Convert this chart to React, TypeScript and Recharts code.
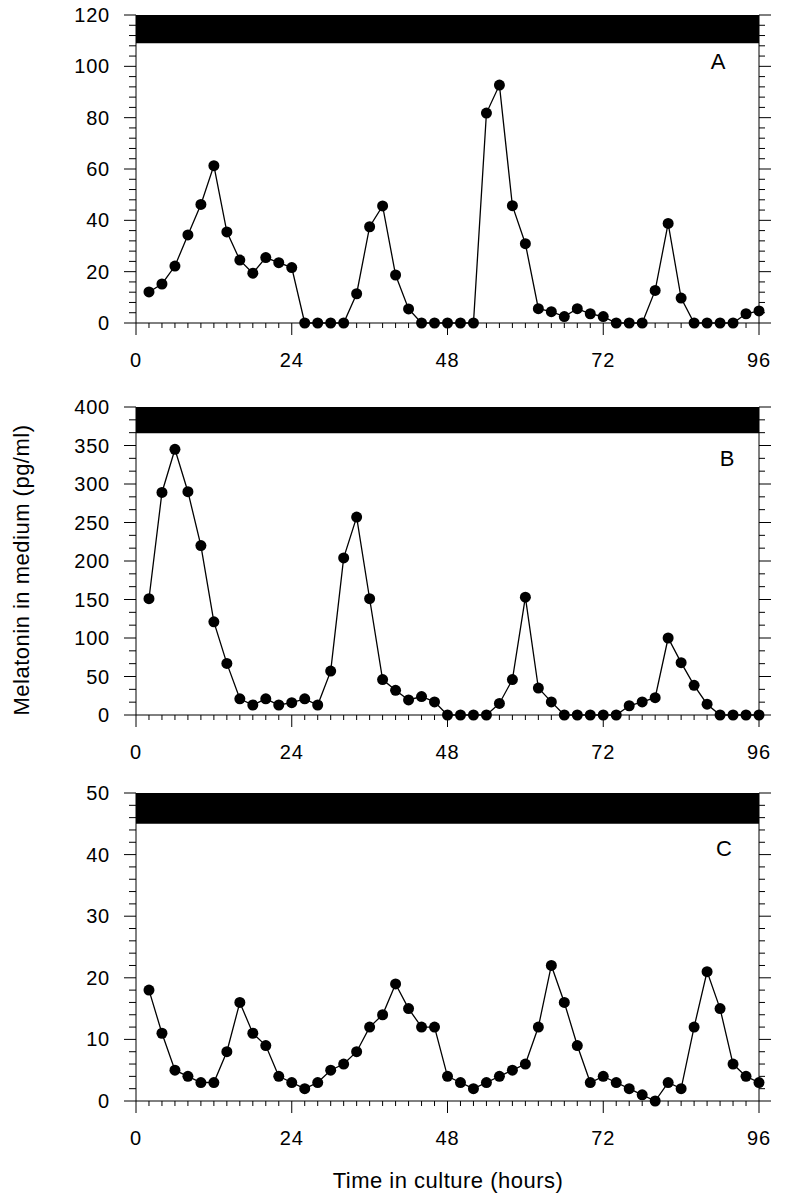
import React from "react";
import { LineChart, Line, XAxis, YAxis, ReferenceArea } from "recharts";

const hours = [
  2, 4, 6, 8, 10, 12, 14, 16, 18, 20, 22, 24, 26, 28, 30, 32, 34, 36, 38, 40, 42, 44, 46, 48,
  50, 52, 54, 56, 58, 60, 62, 64, 66, 68, 70, 72, 74, 76, 78, 80, 82, 84, 86, 88, 90, 92, 94, 96,
];

const valuesA = [
  12.1, 15.2, 22.2, 34.3, 46.2, 61.3, 35.5, 24.5, 19.4, 25.5, 23.5, 21.6,
  0, 0, 0, 0, 11.4, 37.5, 45.6, 18.7, 5.5, 0, 0, 0,
  0, 0, 81.8, 92.7, 45.7, 30.9, 5.6, 4.4, 2.5, 5.6, 3.6, 2.5,
  0, 0, 0, 12.7, 38.8, 9.7, 0, 0, 0, 0, 3.6, 4.7,
];

const valuesB = [
  151, 289, 345, 290, 220, 121, 67, 21, 13, 21, 13, 16,
  21, 13, 57, 204, 257, 151, 46, 32, 19.5, 24, 17, 0,
  0, 0, 0, 15, 46, 153, 35, 17, 0, 0, 0, 0,
  0, 12, 17, 22.5, 100, 68, 38.5, 14, 0, 0, 0, 0,
];

const valuesC = [
  18, 11, 5, 4, 3, 3, 8, 16, 11, 9, 4, 3,
  2, 3, 5, 6, 8, 12, 14, 19, 15, 12, 12, 4,
  3, 2, 3, 4, 5, 6, 12, 22, 16, 9, 3, 4,
  3, 2, 1, 0, 3, 2, 12, 21, 15, 6, 4, 3,
];

const xTicks = [
  0, 2, 4, 6, 8, 10, 12, 14, 16, 18, 20, 22, 24, 26, 28, 30, 32, 34, 36, 38, 40, 42, 44, 46, 48,
  50, 52, 54, 56, 58, 60, 62, 64, 66, 68, 70, 72, 74, 76, 78, 80, 82, 84, 86, 88, 90, 92, 94, 96,
];

// minor tick steps: A every 4, B every 50/3, C every 2
const minorTicks = (max: number, parts: number) =>
  Array.from({ length: parts + 1 }, (_, i) => (max * i) / parts);

const panels = [
  { id: "A", top: 0, max: 120, bar: 109, ticks: minorTicks(120, 30), majorEvery: 5, values: valuesA, lx: 718, ly: 62 },
  { id: "B", top: 392, max: 400, bar: 366, ticks: minorTicks(400, 24), majorEvery: 3, values: valuesB, lx: 727, ly: 459 },
  { id: "C", top: 778, max: 50, bar: 45, ticks: minorTicks(50, 25), majorEvery: 5, values: valuesC, lx: 724, ly: 849 },
];

const FONT = "'Liberation Sans', Arial, sans-serif";

function LeftTick(props: any) {
  const { x, y, payload, index, majorEvery } = props;
  const major = index % majorEvery === 0;
  return (
    <g>
      <line x1={x} x2={x - (major ? 12 : 7)} y1={y} y2={y} stroke="#000" strokeWidth={1} />
      {major && (
        <text x={x - 26} y={y} dy="0.35em" textAnchor="end" fontSize={20} letterSpacing={0.8} fontFamily={FONT} fill="#000">
          {Math.round(payload.value)}
        </text>
      )}
    </g>
  );
}

function RightTick(props: any) {
  const { x, y, index, majorEvery } = props;
  const major = index % majorEvery === 0;
  return <line x1={x} x2={x + (major ? 12 : 6)} y1={y} y2={y} stroke="#000" strokeWidth={1} />;
}

function BottomTick(props: any) {
  const { x, y, payload } = props;
  const major = payload.value % 24 === 0;
  return (
    <g>
      <line x1={x} x2={x} y1={y} y2={y + (major ? 12 : 5)} stroke="#000" strokeWidth={1} />
      {major && (
        <text x={x} y={y + 37} dy="0.35em" textAnchor="middle" fontSize={20} letterSpacing={0.8} fontFamily={FONT} fill="#000">
          {payload.value}
        </text>
      )}
    </g>
  );
}

function Panel({ p }: { p: (typeof panels)[number] }) {
  const data = hours.map((h, i) => ({ h, v: p.values[i] }));
  return (
    <div style={{ position: "absolute", left: 0, top: p.top }}>
      <LineChart width={786} height={373} data={data} margin={{ top: 15, right: 7, bottom: 0, left: 36 }}>
        <XAxis
          dataKey="h"
          type="number"
          domain={[0, 96]}
          ticks={xTicks}
          interval={0}
          tickSize={0}
          tickMargin={0}
          tickLine={false}
          tick={(t: any) => <BottomTick {...t} />}
          axisLine={{ stroke: "#000", strokeWidth: 1 }}
          height={50}
        />
        <YAxis
          yAxisId="l"
          orientation="left"
          type="number"
          domain={[0, p.max]}
          ticks={p.ticks}
          interval={0}
          tickSize={0}
          tickMargin={0}
          tickLine={false}
          tick={(t: any) => <LeftTick {...t} majorEvery={p.majorEvery} />}
          axisLine={{ stroke: "#000", strokeWidth: 1 }}
          width={100}
        />
        <YAxis
          yAxisId="r"
          orientation="right"
          type="number"
          domain={[0, p.max]}
          ticks={p.ticks}
          interval={0}
          tickSize={0}
          tickMargin={0}
          tickLine={false}
          tick={(t: any) => <RightTick {...t} majorEvery={p.majorEvery} />}
          axisLine={{ stroke: "#000", strokeWidth: 1 }}
          width={20}
        />
        <ReferenceArea
          yAxisId="l"
          x1={0}
          x2={96}
          y1={p.bar}
          y2={p.max}
          fill="#000"
          fillOpacity={1}
          stroke="none"
          ifOverflow="visible"
        />
        {/* invisible twin so the right-hand axis has a series and draws its ticks */}
        <Line
          yAxisId="r"
          type="linear"
          dataKey="v"
          stroke="none"
          dot={false}
          activeDot={false}
          isAnimationActive={false}
        />
        <Line
          yAxisId="l"
          type="linear"
          dataKey="v"
          stroke="#000"
          strokeWidth={1.3}
          dot={{ r: 5.5, fill: "#000", stroke: "#000", strokeWidth: 0 }}
          activeDot={false}
          isAnimationActive={false}
        />
      </LineChart>
      <div
        style={{
          position: "absolute",
          left: p.lx,
          top: p.ly - p.top,
          transform: "translate(-50%, -50%)",
          fontSize: 22,
          fontFamily: FONT,
        }}
      >
        {p.id}
      </div>
    </div>
  );
}

export default function App() {
  return (
    <div style={{ position: "absolute", left: 0, top: 0, width: 786, height: 1200, background: "#fff", fontFamily: FONT }}>
      {panels.map((p) => (
        <Panel key={p.id} p={p} />
      ))}
      <div
        style={{
          position: "absolute",
          left: 22,
          top: 570,
          transform: "translate(-50%, -50%) rotate(-90deg)",
          whiteSpace: "nowrap",
          fontSize: 22,
          letterSpacing: 0.5,
        }}
      >
        Melatonin in medium (pg/ml)
      </div>
      <div
        style={{
          position: "absolute",
          left: 448,
          top: 1181,
          transform: "translate(-50%, -50%)",
          whiteSpace: "nowrap",
          fontSize: 22,
          letterSpacing: 0.5,
        }}
      >
        Time in culture (hours)
      </div>
    </div>
  );
}
